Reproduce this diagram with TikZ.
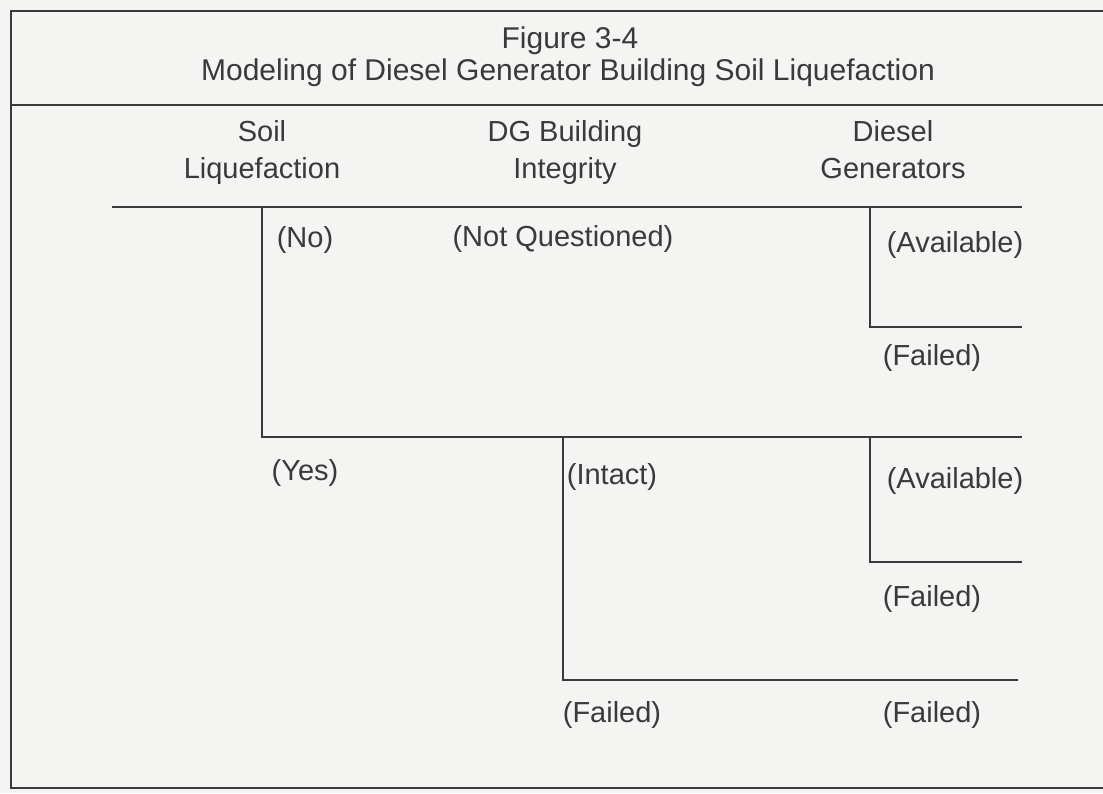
\documentclass[tikz,border=0pt]{standalone}
\usepackage{fontspec}
\setmainfont{Liberation Sans}
\definecolor{scanbg}{RGB}{244,244,242}
\definecolor{scanink}{RGB}{58,58,58}
\usetikzlibrary{positioning}

\begin{document}
\begin{tikzpicture}[
  x=1pt,y=-1pt,
  treeline/.style={draw=scanink,line width=1.6pt},
  frameline/.style={draw=scanink,line width=1.4pt},
  headtext/.style={font=\fontsize{29}{37}\selectfont,text=scanink,align=center,inner sep=0pt},
  branchtext/.style={font=\fontsize{29}{35}\selectfont,text=scanink,anchor=base,inner sep=0pt}
]
  % Background and frame
  \fill[scanbg] (0,0) rectangle (1103,793);
  \useasboundingbox (0,0) rectangle (1103,793);
  \draw[frameline] (1103,11) -- (11,11) -- (11,788) -- (1103,788);
  \draw[frameline] (11,105) -- (1103,105);
  % Title
  \node[branchtext,font=\fontsize{30}{36}\selectfont] (fig) at (570,48) {Figure 3-4};
  \node[branchtext,font=\fontsize{30}{36}\selectfont] (title) at (568,80) {Modeling of Diesel Generator Building Soil Liquefaction};
  % Column heads
  \node[headtext] (soil) at (262,152) {Soil\\Liquefaction};
  \node[headtext] (dgbld) at (565,152) {DG Building\\Integrity};
  \node[headtext] (dgens) at (893,150) {Diesel\\Generators};
  % Branch points
  \coordinate (start) at (112,207);
  \coordinate (sl) at (262,207);
  \coordinate (slyes) at (262,437);
  \coordinate (dg1) at (870,207);
  \coordinate (dg1f) at (870,327);
  \coordinate (bi) at (563,437);
  \coordinate (bif) at (563,680);
  \coordinate (dg2) at (870,437);
  \coordinate (dg2f) at (870,562);
  % Sequence ends
  \coordinate (e1) at (1022,207);
  \coordinate (e2) at (1022,327);
  \coordinate (e3) at (1022,437);
  \coordinate (e4) at (1022,562);
  \coordinate (e5) at (1018,680);
  % Tree
  \draw[treeline] (start) -- (sl) -- (dg1) -- (e1);
  \draw[treeline] (sl) -- (slyes) -- (bi) -- (dg2) -- (e3);
  \draw[treeline] (dg1) -- (dg1f) -- (e2);
  \draw[treeline] (bi) -- (bif) -- (e5);
  \draw[treeline] (dg2) -- (dg2f) -- (e4);
  % Branch labels
  \node[branchtext] (no) at (305,247) {(No)};
  \node[branchtext] (notq) at (563,246) {(Not Questioned)};
  \node[branchtext] (avail1) at (955,252) {(Available)};
  \node[branchtext] (fail1) at (932,365) {(Failed)};
  \node[branchtext] (yes) at (305,480) {(Yes)};
  \node[branchtext] (intact) at (612,484) {(Intact)};
  \node[branchtext] (avail2) at (955,488) {(Available)};
  \node[branchtext] (fail2) at (932,606) {(Failed)};
  \node[branchtext] (fail3) at (612,722) {(Failed)};
  \node[branchtext] (fail4) at (932,722) {(Failed)};
\end{tikzpicture}
\end{document}
